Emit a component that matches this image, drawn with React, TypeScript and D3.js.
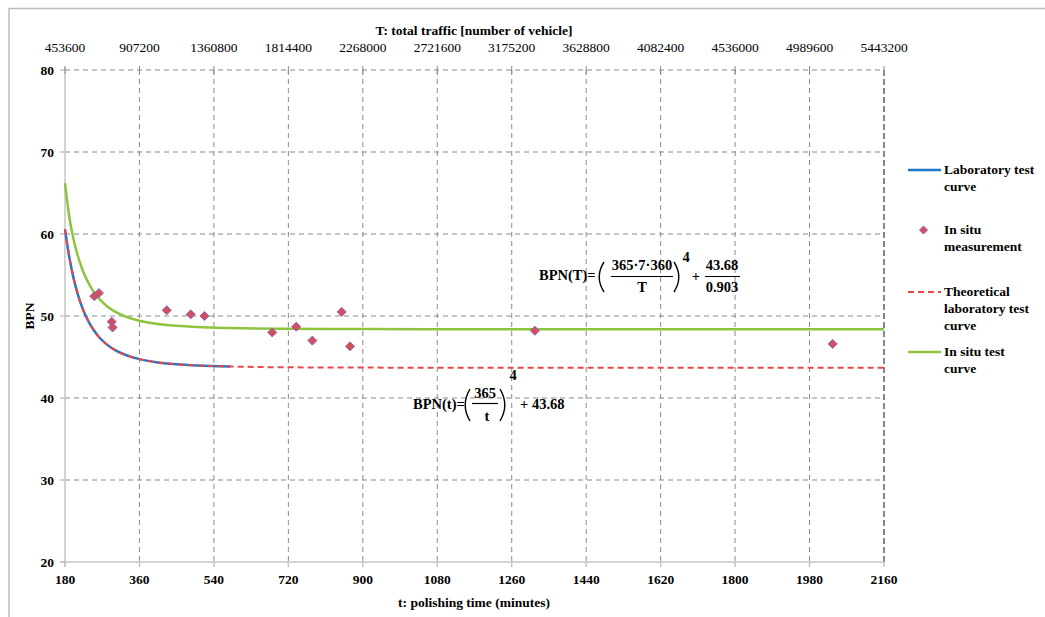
import React from "react";
import * as d3 from "d3";

// ---- data ----
const xTicks = [180, 360, 540, 720, 900, 1080, 1260, 1440, 1620, 1800, 1980, 2160];
const topTickLabels = ["453600", "907200", "1360800", "1814400", "2268000", "2721600", "3175200", "3628800", "4082400", "4536000", "4989600", "5443200"];
const yTicks = [20, 30, 40, 50, 60, 70, 80];

// Laboratory test curve (blue)
const labT = [180, 190, 200, 210, 220, 230, 240, 260, 280, 300, 330, 360, 400, 450, 500, 580];
const labBPN = [60.59, 57.3, 54.77, 52.81, 51.26, 50.02, 49.03, 47.56, 46.57, 45.87, 45.18, 44.74, 44.37, 44.11, 43.96, 43.84];

// Theoretical laboratory test curve (red dashed)
const theoT = [180, 190, 200, 210, 220, 230, 240, 260, 280, 300, 330, 360, 400, 450, 500, 580, 700, 900, 1200, 1600, 2160];
const theoBPN = [60.59, 57.3, 54.77, 52.81, 51.26, 50.02, 49.03, 47.56, 46.57, 45.87, 45.18, 44.74, 44.37, 44.11, 43.96, 43.84, 43.75, 43.71, 43.69, 43.68, 43.68];

// In situ test curve (green)
const situT = [180, 190, 200, 210, 220, 230, 240, 260, 280, 300, 330, 360, 400, 450, 500, 580, 700, 900, 1200, 1600, 2160];
const situBPN = [66.2, 62.2, 59.5, 57.5, 55.95, 54.71, 53.72, 52.25, 51.26, 50.56, 49.87, 49.43, 49.06, 48.8, 48.65, 48.53, 48.44, 48.4, 48.38, 48.37, 48.37];

// In situ measurements (diamonds)
const measT = [251, 262, 293, 295, 426, 484, 517, 681, 739, 778, 849, 869, 1316, 2036];
const measBPN = [52.4, 52.8, 49.3, 48.6, 50.7, 50.2, 50.0, 48.0, 48.7, 47.0, 50.5, 46.3, 48.2, 46.6];

const FONT = "'Liberation Serif', 'Times New Roman', serif";
const BLUE = "#1f78c8";
const RED = "#e8484a";
const GREEN = "#8cc43e";
const GRID = "#8a8a8a";
const AXIS = "#c4c4c4";
const DFILL = "#d5505a";
const DSTROKE = "#8a63b8";

function Paren({ x, top, bottom, left }: { x: number; top: number; bottom: number; left: boolean }) {
  const mid = (top + bottom) / 2;
  const w = 6;
  const d = left
    ? `M${x + w},${top} Q${x - w * 0.6},${mid} ${x + w},${bottom}`
    : `M${x},${top} Q${x + w * 1.6},${mid} ${x},${bottom}`;
  return <path d={d} fill="none" stroke="#000" strokeWidth={1.4} />;
}

export default function App() {
  const W = 1045, H = 617;
  const x = d3.scaleLinear().domain([180, 2160]).range([65, 884]);
  const y = d3.scaleLinear().domain([20, 80]).range([562, 70]);

  const line = (ts: number[], vs: number[]) =>
    d3.line<number>().x((_, i) => x(ts[i])).y((_, i) => y(vs[i])).curve(d3.curveMonotoneX)(ts) || "";

  const diamond = (cx: number, cy: number, r: number) =>
    `M${cx},${cy - r}L${cx + r},${cy}L${cx},${cy + r}L${cx - r},${cy}Z`;

  const x0 = x(180), x1 = x(2160), y0 = y(20), y1 = y(80);

  return (
    <svg width={W} height={H} style={{ position: "absolute", left: 0, top: 0, background: "#fff" }} fontFamily={FONT}>
      <rect x={9} y={8.5} width={W} height={H} fill="none" stroke="#bdbdbd" strokeWidth={1.5} />

      {/* horizontal grid */}
      {yTicks.filter(v => v > 20).map(v => (
        <line key={"hg" + v} x1={x0} x2={x1} y1={y(v)} y2={y(v)} stroke={GRID} strokeWidth={1} strokeDasharray="5,4" />
      ))}
      {/* vertical grid */}
      {xTicks.filter(v => v > 180 && v < 2160).map(v => (
        <line key={"vg" + v} x1={x(v)} x2={x(v)} y1={y1} y2={y0} stroke={GRID} strokeWidth={1} strokeDasharray="5,4" />
      ))}
      <line x1={x1} x2={x1} y1={y1} y2={y0} stroke="#3a3a3a" strokeWidth={1.2} strokeDasharray="6,3" />

      {/* axes */}
      <line x1={x0} x2={x0} y1={y1 - 3} y2={y0 + 5} stroke={AXIS} strokeWidth={1.5} />
      <line x1={x0 - 5} x2={x1} y1={y0} y2={y0} stroke={AXIS} strokeWidth={1.5} />
      {yTicks.map(v => (
        <line key={"yt" + v} x1={x0 - 5} x2={x0} y1={y(v)} y2={y(v)} stroke={AXIS} strokeWidth={1.5} />
      ))}
      {xTicks.map(v => (
        <line key={"xt" + v} x1={x(v)} x2={x(v)} y1={y0} y2={y0 + 5} stroke={AXIS} strokeWidth={1.5} />
      ))}
      {xTicks.map(v => (
        <line key={"tt" + v} x1={x(v)} x2={x(v)} y1={y1 - 4} y2={y1 + 4} stroke={GRID} strokeWidth={1} />
      ))}

      {/* tick labels */}
      {yTicks.map(v => (
        <text key={"yl" + v} x={54} y={y(v)} dy="0.35em" textAnchor="end" fontSize={13.5} fontWeight="bold">{v}</text>
      ))}
      {xTicks.map(v => (
        <text key={"xl" + v} x={x(v)} y={584} textAnchor="middle" fontSize={13.5} fontWeight="bold">{v}</text>
      ))}
      {xTicks.map((v, i) => (
        <text key={"tl" + v} x={x(v)} y={52} textAnchor="middle" fontSize={13.5}>{topTickLabels[i]}</text>
      ))}

      {/* axis titles */}
      <text x={474} y={35} textAnchor="middle" fontSize={13.5} fontWeight="bold">T: total traffic [number of vehicle]</text>
      <text x={474} y={607} textAnchor="middle" fontSize={13.5} fontWeight="bold">t: polishing time (minutes)</text>
      <text transform="translate(34,316) rotate(-90)" textAnchor="middle" fontSize={13.5} fontWeight="bold">BPN</text>

      {/* curves */}
      <path d={line(situT, situBPN)} fill="none" stroke={GREEN} strokeWidth={2.5} />
      <path d={line(labT, labBPN)} fill="none" stroke={BLUE} strokeWidth={2.5} />
      <path d={line(theoT, theoBPN)} fill="none" stroke={RED} strokeWidth={2} strokeDasharray="6,4" />

      {/* measurements */}
      {measT.map((t, i) => (
        <path key={"m" + i} d={diamond(x(t), y(measBPN[i]), 4.5)} fill={DFILL} stroke={DSTROKE} strokeWidth={1} />
      ))}

      {/* formula BPN(T) */}
      <g fontSize={14.5} fontWeight="bold">
        <text x={539} y={280}>BPN(T)=</text>
        <Paren x={598} top={262} bottom={292} left={true} />
        <text x={642} y={270} textAnchor="middle">365·7·360</text>
        <line x1={611} x2={673} y1={276.5} y2={276.5} stroke="#000" strokeWidth={1.2} />
        <text x={642} y={292} textAnchor="middle">T</text>
        <Paren x={674} top={262} bottom={292} left={false} />
        <text x={686} y={262} textAnchor="middle">4</text>
        <text x={696} y={281} textAnchor="middle">+</text>
        <text x={722} y={270} textAnchor="middle">43.68</text>
        <line x1={705} x2={740} y1={276.5} y2={276.5} stroke="#000" strokeWidth={1.2} />
        <text x={722} y={292} textAnchor="middle">0.903</text>
      </g>

      {/* formula BPN(t) */}
      <g fontSize={14.5} fontWeight="bold">
        <text x={413} y={409}>BPN(t)=</text>
        <Paren x={464} top={389} bottom={421} left={true} />
        <text x={485} y={398} textAnchor="middle">365</text>
        <line x1={472} x2={498} y1={403.5} y2={403.5} stroke="#000" strokeWidth={1.2} />
        <text x={487} y={421} textAnchor="middle">t</text>
        <Paren x={500} top={389} bottom={421} left={false} />
        <text x={513} y={380} textAnchor="middle">4</text>
        <text x={520} y={409}>+ 43.68</text>
      </g>

      {/* legend */}
      <g fontSize={13.5} fontWeight="bold">
        <line x1={908} x2={941} y1={170} y2={170} stroke={BLUE} strokeWidth={2.5} />
        <text x={944} y={174}>Laboratory test</text>
        <text x={944} y={191}>curve</text>

        <path d={diamond(923.5, 230, 4)} fill={DFILL} stroke={DSTROKE} strokeWidth={1} />
        <text x={944} y={234}>In situ</text>
        <text x={944} y={251}>measurement</text>

        <line x1={908} x2={941} y1={292} y2={292} stroke={RED} strokeWidth={2} strokeDasharray="6,4" />
        <text x={944} y={296}>Theoretical</text>
        <text x={944} y={313}>laboratory test</text>
        <text x={944} y={330}>curve</text>

        <line x1={908} x2={941} y1={352} y2={352} stroke={GREEN} strokeWidth={2.5} />
        <text x={944} y={356}>In situ test</text>
        <text x={944} y={373}>curve</text>
      </g>
    </svg>
  );
}
